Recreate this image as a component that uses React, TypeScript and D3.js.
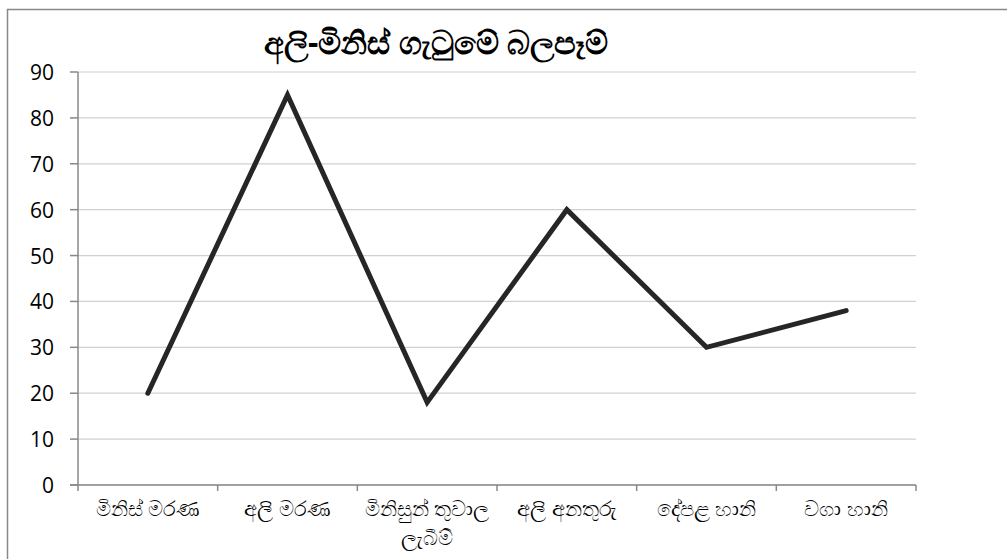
import React from "react";
import * as d3 from "d3";

const categories: string[][] = [
  ["මිනිස් මරණ"],
  ["අලි මරණ"],
  ["මිනිසුන් තුවාල", "ලැබීම්"],
  ["අලි අනතුරු"],
  ["දේපළ හානි"],
  ["වගා හානි"],
];
const values: number[] = [20, 85, 18, 60, 30, 38];
const yTicks: number[] = [0, 10, 20, 30, 40, 50, 60, 70, 80, 90];
const title = "අලි-මිනිස් ගැටුමේ බලපෑම්";

const W = 1007;
const H = 559;
const left = 78;
const right = 916;
const top = 72;
const bottom = 485;

export default function App() {
  const keys = categories.map((_, i) => String(i));
  const x = d3.scaleBand<string>().domain(keys).range([left, right]).padding(0);
  const y = d3.scaleLinear().domain([0, 90]).range([bottom, top]);
  const line = d3
    .line<number>()
    .x((_, i) => (x(String(i)) as number) + x.bandwidth() / 2)
    .y((d) => y(d));
  const font = "'Open Sans', 'Noto Sans', 'Liberation Sans', sans-serif";
  const boundaries = keys.map((k) => x(k) as number).concat([right]);

  return (
    <svg
      width={W}
      height={H}
      style={{ position: "absolute", left: 0, top: 0, background: "#fff" }}
    >
      <rect x={7.5} y={9.5} width={W + 10} height={H + 10} fill="#fff" stroke="#888" strokeWidth={1.5} />
      {yTicks.map((t) => (
        <line key={"g" + t} x1={left} x2={right} y1={y(t)} y2={y(t)} stroke="#d0d0d0" strokeWidth={1.2} />
      ))}
      <line x1={left} x2={left} y1={top} y2={bottom} stroke="#888" strokeWidth={1.5} />
      <line x1={left - 8} x2={right} y1={bottom} y2={bottom} stroke="#888" strokeWidth={1.5} />
      {yTicks.map((t) => (
        <line key={"t" + t} x1={left - 8} x2={left} y1={y(t)} y2={y(t)} stroke="#888" strokeWidth={1.5} />
      ))}
      {boundaries.map((b, i) => (
        <line key={"xt" + i} x1={b} x2={b} y1={bottom} y2={bottom + 6} stroke="#888" strokeWidth={1.5} />
      ))}
      {yTicks.map((t) => (
        <text key={"l" + t} x={54} y={y(t) + 8} textAnchor="end" fontFamily={font} fontSize={21} fill="#000">
          {t}
        </text>
      ))}
      {categories.map((c, i) => (
        <text
          key={"c" + i}
          x={(x(String(i)) as number) + x.bandwidth() / 2}
          y={516}
          textAnchor="middle"
          fontFamily={font}
          fontSize={21}
          fill="#000"
        >
          {c.map((ln, j) => (
            <tspan key={j} x={(x(String(i)) as number) + x.bandwidth() / 2} dy={j === 0 ? 0 : 29}>
              {ln}
            </tspan>
          ))}
        </text>
      ))}
      <path d={line(values) || ""} fill="none" stroke="#262626" strokeWidth={5} strokeLinejoin="miter" strokeLinecap="round" />
      <text x={436} y={54} textAnchor="middle" fontFamily={font} fontSize={32} fontWeight="bold" fill="#000">
        {title}
      </text>
    </svg>
  );
}
